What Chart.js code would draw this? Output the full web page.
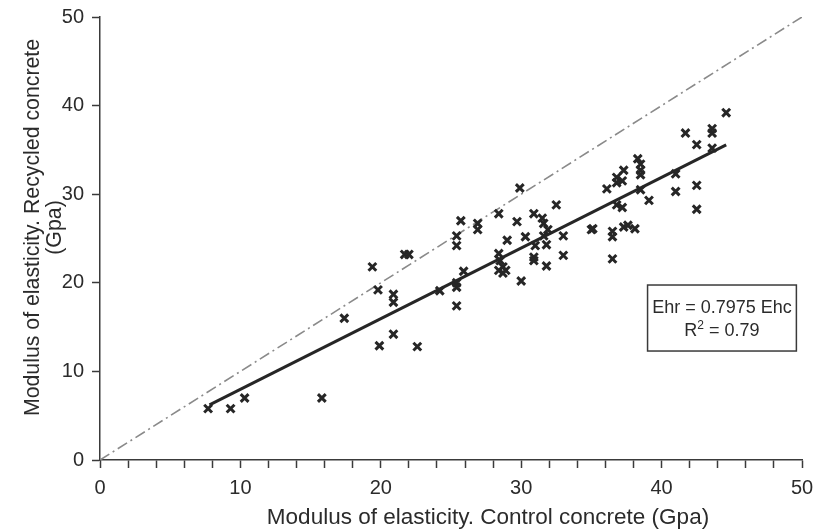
<!DOCTYPE html>
<html>
<head>
<meta charset="utf-8">
<script src="https://cdn.jsdelivr.net/npm/chart.js@4.4.1/dist/chart.umd.min.js"></script>
<style>
  html, body { margin: 0; padding: 0; background: #ffffff; }
  #wrap { position: relative; width: 813px; height: 532px; }
</style>
</head>
<body>
<div id="wrap"><canvas id="modulusChart" width="813" height="532"></canvas></div>
<script>
// Modulus of elasticity: recycled concrete vs control concrete (GPa)
const controlModulus = [
    7.7, 9.3, 10.3, 15.8, 17.4, 19.4, 19.8, 19.9, 20.9, 20.9,
    20.9, 21.7, 22.0, 22.6, 24.2, 25.4, 25.4, 25.4, 25.4, 25.4,
    25.7, 25.9, 26.9, 26.9, 28.4, 28.4, 28.5, 28.7, 28.4, 28.9,
    28.7, 29.0, 29.7, 29.9, 30.0, 30.3, 30.9, 30.9, 30.9, 31.0,
    31.5, 31.6, 31.6, 31.8, 31.8, 31.9, 32.5, 33.0, 33.0, 35.0,
    35.1, 36.1, 36.5, 36.5, 36.5, 36.8, 36.8, 36.8, 37.2, 37.2,
    37.3, 37.3, 37.6, 38.1, 38.3, 38.5, 38.5, 38.5, 38.5, 39.1,
    41.0, 41.0, 41.7, 42.5, 42.5, 42.5, 43.6, 43.6, 43.6, 44.6
];
const recycledModulus = [
    5.8, 5.8, 7.0, 7.0, 16.0, 21.8, 19.2, 12.9, 18.7, 17.8,
    14.2, 23.2, 23.2, 12.8, 19.1, 25.3, 24.2, 20.0, 19.5, 17.4,
    27.0, 21.3, 26.7, 26.0, 27.8, 23.3, 22.5, 21.8, 21.4, 21.4,
    21.1, 24.8, 26.9, 30.7, 20.2, 25.2, 27.8, 22.9, 22.5, 24.2,
    27.3, 26.7, 25.3, 24.3, 21.9, 26.0, 28.8, 25.3, 23.1, 26.0,
    26.1, 30.6, 25.8, 25.2, 22.7, 31.9, 31.3, 28.8, 31.5, 28.5,
    32.7, 26.3, 26.5, 26.1, 34.0, 33.4, 32.7, 32.2, 30.5, 29.3,
    32.3, 30.3, 36.9, 35.6, 31.0, 28.3, 37.4, 36.9, 35.2, 39.2
];

// Fitted relation Ehr = 0.7975 Ehc, drawn across the measured range
const fitSlope = 0.7975;
const fitRange = [7.8, 44.6];
const fitR2 = 0.79;
const equalityRange = [0, 50];

const xTickStep = 2;
const yTickStep = 10;
const axisMax = 50;

const xTitle = 'Modulus of elasticity. Control concrete (Gpa)';
const yTitle = ['Modulus of elasticity. Recycled concrete', '(Gpa)'];

const textColor = '#2b2b2b';
const axisColor = '#3a3a3a';
const fontFamily = '"Liberation Sans", Arial, sans-serif';

const scatterPoints = controlModulus.map((x, i) => ({ x, y: recycledModulus[i] }));
const fitPoints = fitRange.map(x => ({ x, y: fitSlope * x }));
const equalityPoints = equalityRange.map(v => ({ x: v, y: v }));

// Equation box, anchored in data units on the chart area
const equationBox = { x0: 39.0, x1: 49.6, y0: 19.75, y1: 12.3 };

const equationPlugin = {
    id: 'equationBox',
    afterDatasetsDraw(chart) {
        const { ctx, scales } = chart;
        const left = scales.x.getPixelForValue(equationBox.x0);
        const right = scales.x.getPixelForValue(equationBox.x1);
        const top = scales.y.getPixelForValue(equationBox.y0);
        const bottom = scales.y.getPixelForValue(equationBox.y1);
        const cx = (left + right) / 2;

        ctx.save();
        ctx.fillStyle = '#ffffff';
        ctx.fillRect(left, top, right - left, bottom - top);
        ctx.strokeStyle = axisColor;
        ctx.lineWidth = 1.5;
        ctx.strokeRect(left, top, right - left, bottom - top);

        ctx.fillStyle = textColor;
        ctx.textBaseline = 'alphabetic';
        ctx.font = `18px ${fontFamily}`;
        ctx.textAlign = 'center';
        ctx.fillText(`Ehr = ${fitSlope} Ehc`, cx, top + 28);

        // R² line with a raised exponent
        const base = 'R';
        const rest = ` = ${fitR2}`;
        const wBase = ctx.measureText(base).width;
        const wRest = ctx.measureText(rest).width;
        ctx.font = `12px ${fontFamily}`;
        const wSup = ctx.measureText('2').width;
        let x = cx - (wBase + wSup + wRest) / 2;
        const y = top + 51;
        ctx.textAlign = 'left';
        ctx.font = `18px ${fontFamily}`;
        ctx.fillText(base, x, y);
        x += wBase;
        ctx.font = `12px ${fontFamily}`;
        ctx.fillText('2', x, y - 7);
        x += wSup;
        ctx.font = `18px ${fontFamily}`;
        ctx.fillText(rest, x, y);
        ctx.restore();
    }
};

// Axis titles sit a little off-centre, so they are placed by hand
const axisTitlePlugin = {
    id: 'axisTitles',
    afterDraw(chart) {
        const { ctx, chartArea } = chart;
        ctx.save();
        ctx.fillStyle = textColor;
        ctx.textAlign = 'center';
        ctx.textBaseline = 'middle';

        ctx.font = `22.5px ${fontFamily}`;
        ctx.fillText(xTitle, (chartArea.left + chartArea.right) / 2 + 37, 518);

        ctx.font = `21.3px ${fontFamily}`;
        ctx.translate(0, (chartArea.top + chartArea.bottom) / 2 - 11);
        ctx.rotate(-Math.PI / 2);
        yTitle.forEach((line, i) => ctx.fillText(line, 0, 33 + i * 22));
        ctx.restore();
    }
};

const ctx = document.getElementById('modulusChart');

new Chart(ctx, {
    type: 'scatter',
    data: {
        datasets: [
            {
                label: 'Equality',
                type: 'line',
                data: equalityPoints,
                borderColor: '#8a8a8a',
                borderWidth: 1.6,
                borderDash: [11, 4, 2, 4],
                pointRadius: 0,
                fill: false,
                order: 3
            },
            {
                label: 'Fit',
                type: 'line',
                data: fitPoints,
                borderColor: '#262626',
                borderWidth: 3,
                pointRadius: 0,
                fill: false,
                order: 2
            },
            {
                label: 'Measured',
                data: scatterPoints,
                pointStyle: 'crossRot',
                pointRadius: 5.5,
                pointBorderWidth: 3,
                pointBorderColor: '#262626',
                pointBackgroundColor: '#262626',
                order: 1
            }
        ]
    },
    options: {
        responsive: false,
        animation: false,
        layout: {
            padding: 0
        },
        plugins: {
            legend: { display: false },
            tooltip: { enabled: false }
        },
        scales: {
            x: {
                type: 'linear',
                min: 0,
                max: axisMax,
                afterFit(scale) {
                    scale.height = 72;
                    scale.paddingRight = 11;
                    scale.paddingLeft = 0;
                },
                border: { color: axisColor, width: 1.5 },
                grid: {
                    drawOnChartArea: false,
                    drawTicks: true,
                    tickLength: 8,
                    tickWidth: 1.5,
                    tickColor: axisColor
                },
                ticks: {
                    stepSize: xTickStep,
                    autoSkip: false,
                    maxRotation: 0,
                    padding: 8,
                    color: textColor,
                    font: { family: fontFamily, size: 20 },
                    callback: value => (value % 10 === 0 ? String(value) : '')
                },
                title: { display: false }
            },
            y: {
                type: 'linear',
                min: 0,
                max: axisMax,
                afterFit(scale) {
                    scale.width = 100;
                    scale.paddingTop = 17;
                    scale.paddingBottom = 0;
                },
                border: { color: axisColor, width: 1.5 },
                grid: {
                    drawOnChartArea: false,
                    drawTicks: true,
                    tickLength: 8,
                    tickWidth: 1.5,
                    tickColor: axisColor
                },
                ticks: {
                    stepSize: yTickStep,
                    padding: 8,
                    color: textColor,
                    font: { family: fontFamily, size: 20 }
                },
                title: { display: false }
            }
        }
    },
    plugins: [equationPlugin, axisTitlePlugin]
});
</script>
</body>
</html>
